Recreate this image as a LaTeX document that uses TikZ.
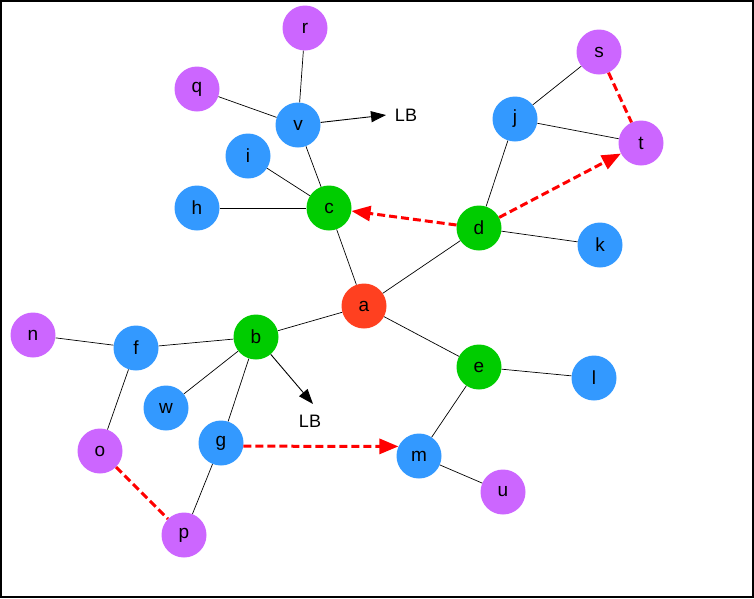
\documentclass[tikz,border=0pt]{standalone}
\usepackage{fontspec}
\setmainfont{Liberation Sans}
\usetikzlibrary{arrows.meta}
\definecolor{Sky}{HTML}{3399FF}
\definecolor{Leaf}{HTML}{00CC00}
\definecolor{Lilac}{HTML}{CC66FF}
\definecolor{Flame}{HTML}{FF4020}
\tikzset{
  vert/.style={circle, minimum size=45pt, inner sep=0pt, font=\fontsize{19}{21}\selectfont},
  blu/.style={vert, fill=Sky},
  grn/.style={vert, fill=Leaf},
  pur/.style={vert, fill=Lilac},
  hub/.style={vert, fill=Flame},
  lbl/.style={font=\fontsize{18}{20}\selectfont, inner sep=1pt},
  link/.style={line width=0.7pt, draw=black},
  arrow/.style={-{Triangle[length=15pt,width=11pt]}, line width=0.9pt, draw=black},
  redlink/.style={dash pattern=on 8pt off 4pt, line width=3pt, draw=red},
  redarrow/.style={redlink, -{Triangle[length=19pt,width=15pt]}},
}
\begin{document}
\begin{tikzpicture}[x=1pt, y=-1pt]
  \useasboundingbox (0,0) rectangle (754,598);
  \draw[line width=1.6pt] (0.8,0.8) rectangle (753.2,597.2);
  \node[pur] (r) at (305,28) {r};
  \node[pur] (q) at (197,89) {q};
  \node[blu] (v) at (298,125) {v};
  \node[lbl] (lbv) at (406,115) {LB};
  \coordinate (tipv) at (386,115);
  \node[pur] (s) at (599,52) {s};
  \node[blu] (j) at (515,119) {j};
  \node[pur] (t) at (641,143) {t};
  \node[blu] (i) at (248,156) {i};
  \node[blu] (h) at (197,208) {h};
  \node[grn] (c) at (329,208) {c};
  \node[grn] (d) at (479,228) {d};
  \node[blu] (k) at (600,245) {k};
  \node[hub] (a) at (364,306) {a};
  \node[pur] (n) at (33,335) {n};
  \node[blu] (f) at (136,348) {f};
  \node[grn] (b) at (256,337) {b};
  \node[grn] (e) at (479,367) {e};
  \node[blu] (l) at (594,378) {l};
  \node[blu] (w) at (166,408) {w};
  \node[lbl] (lbb) at (310,421) {LB};
  \coordinate (tipb) at (313,404);
  \node[pur] (o) at (100,451) {o};
  \node[blu] (g) at (221,443) {g};
  \node[blu] (m) at (419,456) {m};
  \node[pur] (u) at (503,492) {u};
  \node[pur] (p) at (184,535) {p};
  \draw[link] (r) -- (v);
  \draw[link] (q) -- (v);
  \draw[link] (v) -- (c);
  \draw[link] (i) -- (c);
  \draw[link] (h) -- (c);
  \draw[link] (c) -- (a);
  \draw[link] (a) -- (d);
  \draw[link] (d) -- (j);
  \draw[link] (j) -- (s);
  \draw[link] (j) -- (t);
  \draw[link] (d) -- (k);
  \draw[link] (a) -- (b);
  \draw[link] (a) -- (e);
  \draw[link] (e) -- (l);
  \draw[link] (e) -- (m);
  \draw[link] (m) -- (u);
  \draw[link] (b) -- (f);
  \draw[link] (f) -- (n);
  \draw[link] (f) -- (o);
  \draw[link] (b) -- (w);
  \draw[link] (b) -- (g);
  \draw[link] (g) -- (p);
  \draw[arrow] (v) -- (tipv);
  \draw[arrow] (b) -- (tipb);
  \draw[redarrow] (d) -- (c);
  \draw[redarrow] (d) -- (t);
  \draw[redarrow] (g.-8) -- (m.155);
  \draw[redlink] (s) -- (t);
  \draw[redlink] (o) -- (p);
\end{tikzpicture}
\end{document}
